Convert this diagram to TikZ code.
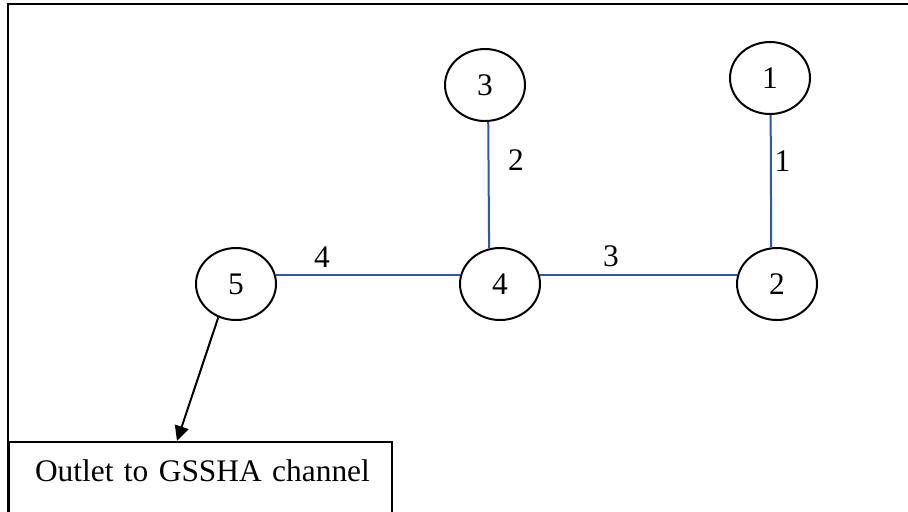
\documentclass[tikz,border=0pt]{standalone}
\usepackage{fontspec}
\setmainfont{Liberation Serif}
\usetikzlibrary{shapes.geometric,arrows.meta}
\definecolor{linkblue}{RGB}{44,87,175}
\tikzset{
  junction/.style={draw, ellipse, line width=1pt, minimum width=40pt, minimum height=36pt, inner sep=0pt},
  link/.style={linkblue, line width=1pt},
  linklabel/.style={text=black},
  outletbox/.style={draw, line width=1pt, anchor=north west, align=left, text width=165.5pt,
    inner xsep=13pt, inner ysep=8.5pt, text height=11pt, text depth=40pt}
}
\begin{document}
\begin{tikzpicture}[x=0.5pt, y=-0.5pt, font=\fontsize{15.7pt}{19pt}\selectfont]
    \useasboundingbox (0,0) rectangle (908,511);
    \clip (0,0) rectangle (908,511);
    \draw[line width=1pt] (920,3.5) -| (8,520);
    % junctions
    \node[junction] (n1) at (770,78) {1};
    \node[junction] (n2) at (777,284) {2};
    \node[junction] (n3) at (485,85) {3};
    \node[junction] (n4) at (500,284) {4};
    \node[junction] (n5) at (236,284) {5};
    \node[outletbox] (outlet) at (8,441) {\mbox{Outlet to GSSHA channel}};
    % links
    \draw[link] (n1.271) -- node[linklabel, pos=0.35, right, xshift=-2pt] {1} (n2.99);
    \draw[link] (n3.275) -- node[linklabel, pos=0.3, right, xshift=6pt] {2} (n4.107);
    \draw[link] (n4.13) -- node[linklabel, pos=0.36, above] {3} (n2.167);
    \draw[link] (n5.13) -- node[linklabel, pos=0.25, above] {4} (n4.167);
    \draw[-{Triangle[length=7.5pt,width=7pt]}, line width=1pt] (n5.242) -- ([xshift=84.5pt]outlet.north west);
\end{tikzpicture}
\end{document}
